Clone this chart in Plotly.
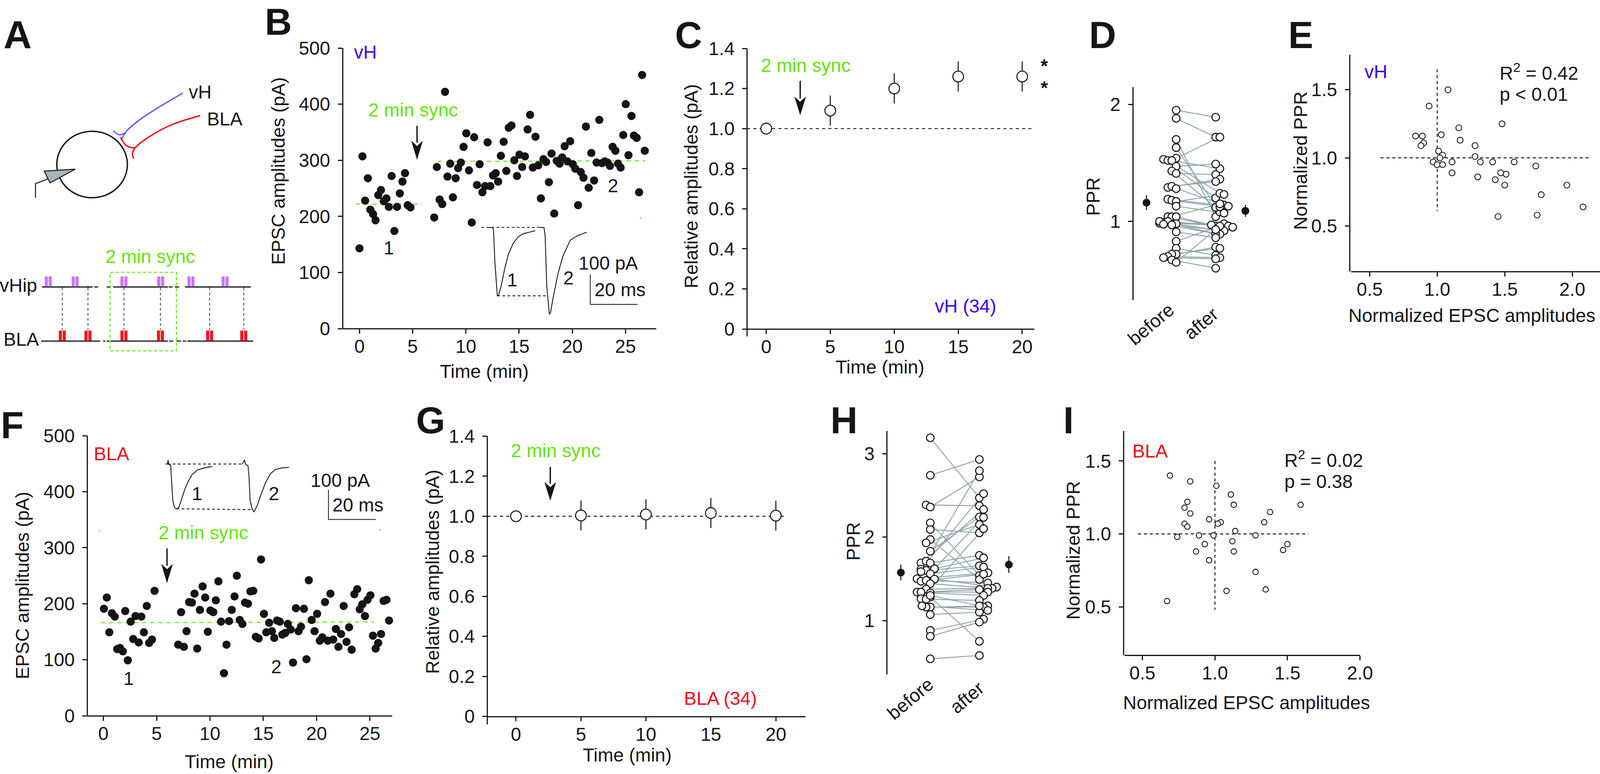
#!/usr/bin/python3
import plotly.graph_objects as go

W = 4126
H = 1981
FONT = "Liberation Sans"
BLACK = "#151515"
GREEN = "#62e60a"
BLUE = "#3a00f0"
RED = "#f00a14"
GREY_LINE = "#8fa5a8"

#DATA
B_TIME = [0,.28,.53,.79,1.02,1.28,1.51,1.77,2.02,2.28,2.53,2.76,3.02,3.28,3.53,3.79,4.04,4.28,4.53,4.79,
          7.02,7.27,7.53,7.78,8.04,8.27,8.53,8.78,9.04,9.27,9.53,9.78,10.04,10.29,10.55,10.78,11.04,11.29,11.55,11.8,
          12.04,12.3,12.55,12.8,13.03,13.29,13.55,13.8,14.03,14.29,14.55,14.8,15.03,15.29,15.55,15.8,16.03,16.29,16.54,16.8,
          17.05,17.29,17.54,17.8,18.05,18.3,18.54,18.8,19.05,19.28,19.54,19.8,20.05,20.28,20.54,20.8,21.05,21.28,21.54,21.79,
          22.05,22.28,22.54,22.79,23.05,23.3,23.54,23.79,24.05,24.3,24.54,24.79,25.02,25.28,25.56,25.79,26.05,26.28,26.56,26.81]
B_AMP = [143,307,228,268,212,204,193,238,247,227,232,217,272,174,217,241,262,277,220,216,
         198,288,230,222,422,271,294,234,268,286,296,324,348,282,189,341,256,293,243,254,
         332,254,273,277,262,308,333,281,358,362,300,272,310,288,307,355,381,287,342,291,
         232,302,297,261,312,205,299,294,305,325,298,334,293,285,220,279,269,360,251,313,
         264,296,372,295,298,296,290,324,317,294,287,345,400,309,379,344,340,243,452,317]

C_TIME = [0,5,10,15,20]
C_MEAN = [1.0,1.09,1.2,1.26,1.26]
C_ERR = [0,.075,.075,.075,.075]

D_BEFORE = [1.95,1.88,1.70,1.63,1.54,1.53,1.52,1.52,1.47,1.43,1.41,1.29,1.30,1.28,1.19,1.18,1.17,1.13,1.04,1.04,1.04,
            .98,.985,.99,1.0,.97,1.0,.975,.91,.83,.77,.72,.72,.70,.69,.67,.65]
D_BEFORE_OFF = [0,0,0,0,0,-.32,-.21,-.11,0,-.11,0,-.21,-.11,0,-.21,-.11,0,0,-.21,-.11,0,
                0,-.42,-.32,-.21,-.11,-.42,-.32,0,0,0,0,-.11,-.21,-.32,-.11,0]
D_AFTER = [1.89,1.72,1.04,1.08,1.72,1.20,1.24,1.45,1.49,1.12,1.40,1.36,1.34,1.14,1.13,1.125,1.23,1.07,.96,1.15,.97,
           .92,.98,.96,.95,.92,.89,.895,.86,.96,.71,.78,.77,.69,.68,.60,.93]
D_AFTER_OFF = [0,0,0,.105,.105,0,.105,.105,0,0,0,.105,0,.21,.32,.105,.21,.21,0,.105,-.11,
               .105,.21,.32,.43,.21,.105,0,0,.105,0,0,.105,.105,0,0,0]
D_MEAN = [1.16,1.09]
D_ERR = [.064,.052]

E_X = [1.08,.94,1.48,1.16,1.03,.84,.89,.90,.88,1.17,1.28,1.01,1.28,1.04,1.02,.97,1.0,1.04,1.11,1.32,1.41,1.57,
       1.11,1.73,1.47,1.51,1.30,1.43,1.50,1.96,1.77,2.08,1.45,1.74]
E_Y = [1.50,1.38,1.25,1.22,1.17,1.16,1.16,1.11,1.09,1.13,1.09,1.05,1.01,1.02,1.0,.97,.95,.95,.97,.97,.97,.97,
       .89,.94,.89,.88,.86,.84,.80,.80,.73,.64,.57,.58]

F_TIME = [.05,.32,.56,.8,1.07,1.29,1.56,1.83,2.05,2.29,2.56,2.8,3.02,3.31,3.56,3.8,4.07,4.29,4.56,4.8,
          7.02,7.29,7.55,7.8,8.04,8.31,8.55,8.8,9.06,9.31,9.55,9.8,10.04,10.31,10.55,10.79,11.04,11.31,11.55,11.79,
          12.04,12.3,12.52,12.79,13.04,13.28,13.57,13.79,14.06,14.3,14.57,14.79,15.06,15.28,15.55,15.81,16.03,16.3,16.55,16.79,
          17.06,17.3,17.57,17.79,18.06,18.3,18.54,18.81,19.05,19.27,19.54,19.81,20.05,20.3,20.54,20.79,21.05,21.3,21.56,21.81,
          22.05,22.3,22.54,22.81,23.05,23.29,23.54,23.81,24.05,24.29,24.54,24.78,25.05,25.29,25.54,25.78,26.05,26.29,26.56,26.8]
F_AMP = [191,211,149,183,177,119,121,115,187,99,168,137,178,131,177,149,196,130,136,223,
         127,185,123,151,203,202,218,120,189,231,211,150,188,185,206,240,168,76,127,169,
         189,213,250,171,164,202,200,222,223,141,138,279,182,149,166,151,139,170,168,145,
         148,164,154,95,192,151,159,191,101,242,171,151,182,134,140,203,134,218,136,155,
         123,146,196,132,158,118,217,226,190,199,178,207,215,143,120,130,146,205,207,170]

G_TIME = [0,5,10,15,20]
G_MEAN = [1.0,1.004,1.009,1.016,1.003]
G_ERR = [0,.075,.075,.075,.075]

H_BEFORE = [3.19,2.74,2.385,2.36,2.17,2.09,1.97,1.93,1.83,1.69,1.71,1.69,1.615,1.60,1.62,1.56,1.585,1.50,1.47,1.48,1.495,
            1.44,1.375,1.34,1.34,1.33,1.28,1.26,1.255,1.16,1.16,1.175,1.07,.88,.81,.54,1.30]
H_BEFORE_OFF = [0,0,-.085,0,0,0,0,-.085,0,-.19,-.085,0,-.19,-.085,.085,0,-.19,-.27,-.19,-.085,.085,
                0,-.085,-.27,-.19,0,0,-.19,-.085,0,-.085,-.17,0,0,0,0,0]
H_AFTER = [2.47,2.93,2.375,2.72,1.54,2.05,1.49,2.15,2.24,2.33,2.795,1.78,2.52,1.655,2.235,1.64,1.75,1.57,1.555,1.45,1.40,
           1.385,1.385,1.34,1.37,1.30,.75,2.10,1.24,1.175,1.16,1.12,1.10,1.015,.98,.58,1.175]
H_AFTER_OFF = [0,0,0,0,0,0,0,0,0,.085,0,0,.085,0,.085,.085,.085,.175,.085,.17,.35,
               .26,.17,.17,0,.085,0,.085,0,.17,.085,.17,0,.085,0,0,0]
H_MEAN = [1.574,1.67]
H_ERR = [.094,.10]

I_X = [.69,.83,1.01,1.11,.81,1.13,1.59,.79,1.38,.83,.96,1.34,1.04,1.02,.79,.81,1.14,.74,.89,.99,1.28,1.12,.93,1.50,1.47,.87,1.13,.96,1.28,1.35,1.08,.67]
I_Y = [1.40,1.36,1.33,1.27,1.22,1.20,1.20,1.18,1.15,1.14,1.10,1.08,1.08,1.07,1.07,1.05,1.02,.98,.99,.99,.99,.95,.93,.93,.89,.88,.88,.82,.74,.62,.61,.54]

#inset traces (ms, pA)
B_TRACE1_T = [2.6,4.7,5.2,5.75,6.8,7.3,8.4,9.9,11.5,13.6,15.7,17.8,20.4,22.8]
B_TRACE1_I = [0,0,-10,-114,-229,-227,-197,-139,-89,-52,-31,-21,-16,-11]
B_TRACE2_T = [24.6,26.5,27,27.7,28.8,29.3,30.3,32.4,34.5,37.6,40.8,44.6]
B_TRACE2_I = [0,0,-25,-197,-291,-285,-239,-156,-97,-43,-27,-16]
F_TRACE1_T = [0,.9,1.1,1.3,2.2,2.5,3.1,3.8,4.9,5.8,6.9,8.2,9.7,11.3,13.5,16.3,19.8]
F_TRACE1_I = [0,0,14,0,-4,-41,-123,-146,-151,-143,-115,-84,-57,-35,-20,-13,-8]
F_TRACE2_T = [32.5,33.4,33.8,34.9,35.3,35.8,36.6,37.4,38.8,40.4,42.1,44.3,46.5,49.2,52.2]
F_TRACE2_I = [0,14,0,-6,-41,-123,-149,-161,-139,-102,-66,-33,-18,-13,-11]

#protocol pulses in panel A
VHIP_PULSES = [124.5,193.8,319.6,414.3,492.4,580.4]
BLA_PULSES = [160.7,226.8,319.6,413.8,540.6,628.6]

fig = go.Figure()
axis_count = [1]
annotations = []
shapes = []


#FUNCTIONS
def px_x(p):
    return p / W


def px_y(p):
    return 1 - p / H


def text(x, y, s, size=48, color=BLACK, bold=False, anchor="center", angle=0, italic=False):
    if bold:
        s = "<b>" + s + "</b>"
    if italic:
        s = "<i>" + s + "</i>"
    annotations.append(dict(x=px_x(x), y=px_y(y), xref="paper", yref="paper", text=s, showarrow=False,
                            xanchor=anchor, yanchor="middle", textangle=angle,
                            font=dict(family=FONT, size=size, color=color)))


def arrow(x, y0, y1, y_head, width=30):
    shapes.append(dict(type="line", xref="paper", yref="paper", x0=px_x(x), x1=px_x(x), y0=px_y(y0), y1=px_y(y_head + 5),
                       line=dict(color=BLACK, width=3.5)))
    notch = y_head + (y1 - y_head) * 0.28
    path = "M %f,%f L %f,%f L %f,%f L %f,%f Z" % (px_x(x - width / 2), px_y(y_head), px_x(x), px_y(y1),
                                                  px_x(x + width / 2), px_y(y_head), px_x(x), px_y(notch))
    shapes.append(dict(type="path", xref="paper", yref="paper", path=path, fillcolor=BLACK, line=dict(width=0)))


def make_axes(x_px, y_px, x_cal, y_cal, x_line=None, y_line=None, xticks=None, yticks=None):
    # x_cal / y_cal are (value, pixel, value, pixel), x_line and y_line the pixel where each axis is drawn
    axis_count[0] += 1
    n = axis_count[0]
    x_scale = (x_cal[2] - x_cal[0]) / (x_cal[3] - x_cal[1])
    y_scale = (y_cal[2] - y_cal[0]) / (y_cal[3] - y_cal[1])
    x_range = [x_cal[0] + (x_px[0] - x_cal[1]) * x_scale, x_cal[0] + (x_px[1] - x_cal[1]) * x_scale]
    y_range = [y_cal[0] + (y_px[1] - y_cal[1]) * y_scale, y_cal[0] + (y_px[0] - y_cal[1]) * y_scale]
    xaxis = dict(domain=[px_x(x_px[0]), px_x(x_px[1])], range=x_range, showgrid=False, zeroline=False, anchor="free",
                 position=px_y(y_px[1] if x_line is None else x_line), visible=xticks is not None, automargin=False)
    yaxis = dict(domain=[px_y(y_px[1]), px_y(y_px[0])], range=y_range, showgrid=False, zeroline=False, anchor="free",
                 position=px_x(x_px[0] if y_line is None else y_line), visible=yticks is not None, automargin=False)
    style = dict(showline=True, linecolor=BLACK, linewidth=2.6, ticks="outside", ticklen=11, tickwidth=2.6,
                 tickcolor=BLACK, tickfont=dict(family=FONT, size=48, color=BLACK), tickmode="array")
    if xticks is not None:
        xaxis.update(style, tickvals=xticks[0], ticktext=xticks[1], ticklabelstandoff=-8)
    if yticks is not None:
        yaxis.update(style, tickvals=yticks[0], ticktext=yticks[1], ticklabelstandoff=10)
    fig.update_layout(**{"xaxis%d" % n: xaxis, "yaxis%d" % n: yaxis})
    return "x%d" % n, "y%d" % n


def line(ax, xs, ys, color=BLACK, width=2.5, dash=None, spline=False):
    fig.add_trace(go.Scatter(x=xs, y=ys, xaxis=ax[0], yaxis=ax[1], mode="lines", cliponaxis=False, hoverinfo="skip",
                             line=dict(color=color, width=width, dash=dash, shape="spline" if spline else "linear")))


def dots(ax, xs, ys, size, fill=BLACK, edge=BLACK, edge_width=0, err=None):
    error_y = dict(type="data", array=err, visible=True, thickness=2.6, width=0, color=BLACK) if err is not None else None
    fig.add_trace(go.Scatter(x=xs, y=ys, xaxis=ax[0], yaxis=ax[1], mode="markers", cliponaxis=False, error_y=error_y,
                             marker=dict(size=size, color=fill, line=dict(color=edge, width=edge_width))))


#PANEL A
ax = make_axes((0, 700), (0, 950), (0, 0, 700, 700), (0, 0, 950, 950))
shapes.append(dict(type="circle", xref="paper", yref="paper", x0=px_x(146.5), x1=px_x(328.5), y0=px_y(336), y1=px_y(506),
                   line=dict(color=BLACK, width=3.5)))
line(ax, [472,402,357,326,312.5], [238,279,309,336,359], color="#6a5cf5", width=3.5, spline=True)
line(ax, [292,308,324], [335,345,339], color="#6a5cf5", width=3.5, spline=True)
line(ax, [516,446,388,348,341.5,345], [296,318,348,379,394,406], color=RED, width=3.5, spline=True)
line(ax, [311,326,348], [351.5,373,379], color=RED, width=3.5, spline=True)
line(ax, [123,91.5,91.5], [458,470,506], width=2.5)
shapes.append(dict(type="path", xref="paper", yref="paper", fillcolor="#a9b5b8", line=dict(color=BLACK, width=2.5),
                   path="M %f,%f L %f,%f L %f,%f Z" % (px_x(114), px_y(438), px_x(194), px_y(433), px_x(129), px_y(468))))
for seg in [(108.5,239), (243,253), (275,286), (292,433), (435,445), (451,462), (477,646.4)]:
    line(ax, list(seg), [734.5,734.5], width=2.8)
for seg in [(106,258), (266,272), (275,282), (286,433), (436,447), (455,467), (471,480), (483,653)]:
    line(ax, list(seg), [873,873], width=2.8)
for c in BLA_PULSES:
    line(ax, [c,c], [736,845], color="#5a6a6a", width=2.6, dash="7px,6px")
for c in VHIP_PULSES:
    line(ax, [c-5,c-5], [707.5,733.5], color="#c878f5", width=8)
    line(ax, [c+5,c+5], [707.5,733.5], color="#c878f5", width=8)
for c in BLA_PULSES:
    line(ax, [c-5,c-5], [846,872], color="#f5141e", width=8)
    line(ax, [c+5,c+5], [846,872], color="#f5141e", width=8)
shapes.append(dict(type="rect", xref="paper", yref="paper", x0=px_x(284), x1=px_x(455), y0=px_y(697), y1=px_y(898),
                   line=dict(color=GREEN, width=2.6, dash="8px,6px")))
text(516, 236, "vH")
text(579.5, 305, "BLA")
text(387, 656, "2 min sync", color=GREEN)
text(47.5, 730, "vHip")
text(55, 868, "BLA")
text(45.5, 89, "A", size=100, bold=True)

#PANEL B
TIME_TICKS = ([0,5,10,15,20,25], ["0","5","10","15","20","25"])
AMP_TICKS = ([0,100,200,300,400,500], ["0","100","200","300","400","500"])
ax = make_axes((883, 1692), (123, 841), (0, 927, 25, 1613), (500, 123, 0, 841), xticks=TIME_TICKS, yticks=AMP_TICKS)
line(ax, [-.33,5.9], [222,222], color=GREEN, dash="11px,10px")
line(ax, [7.35,26.9], [298,299], color=GREEN, dash="11px,10px")
line(ax, [26.35,26.5], [197,197], color=GREEN)
dots(ax, B_TIME, B_AMP, 21)
arrow(1075.4, 322, 409, 360)
text(942, 133, "vH", color=BLUE)
text(1065, 281, "2 min sync", color=GREEN)
text(1003, 635, "1")
text(1581, 476, "2")
text(718, 56, "B", size=96, bold=True)
text(718, 438, "EPSC amplitudes (pA)", angle=-90)
text(1249, 950, "Time (min)")

ax = make_axes((1241, 1680), (560, 830), (0, 1241, 20, 1363), (0, 582, -100, 658.5))
line(ax, [0,26.5], [0,0], dash="7px,6px", width=2.2)
line(ax, [6.8,27.9], [-229,-229], dash="7px,6px", width=2.2)
line(ax, B_TRACE1_T, B_TRACE1_I, width=2.2)
line(ax, B_TRACE2_T, B_TRACE2_I, width=2.2)
line(ax, [46.1,46.1,66.1], [-157.5,-257.5,-257.5], width=2)
text(1568, 673, "100 pA")
text(1599, 741, "20 ms")
text(1321, 717, "1")
text(1466, 711, "2")

#PANEL C
REL_TICKS = ([0,.2,.4,.6,.8,1,1.2,1.4], ["0","0.2","0.4","0.6","0.8","1.0","1.2","1.4"])
EVERY5 = ([0,5,10,15,20], ["0","5","10","15","20"])
ax = make_axes((1926, 2667), (124, 861), (0, 1976, 20, 2636), (1.4, 124, 0, 842), x_line=842, xticks=EVERY5, yticks=REL_TICKS)
line(ax, [-1.5,21.5], [1,1], dash="8px,8px", width=2.4)
dots(ax, C_TIME, C_MEAN, 27.5, fill="white", edge_width=2.6, err=C_ERR)
arrow(2063.5, 207, 295, 247)
text(2077.5, 167, "2 min sync", color=GREEN)
text(2489.5, 783, "vH (34)", color=BLUE)
text(2693, 168, "*", bold=True)
text(2693, 225, "*", bold=True)
text(1775, 90, "C", size=96, bold=True)
text(1783, 477, "Relative amplitudes (pA)", angle=-90)
text(2269.5, 939, "Time (min)")

#PANEL D
ax = make_axes((2921, 3260), (223, 768), (1, 3033, 2, 3135), (2, 267, 1, 566.6), yticks=([1,2], ["1","2"]))
for i in range(len(D_BEFORE)):
    line(ax, [1 + D_BEFORE_OFF[i], 2 + D_AFTER_OFF[i]], [D_BEFORE[i], D_AFTER[i]], color=GREY_LINE, width=2.4)
dots(ax, [1 + o for o in D_BEFORE_OFF], D_BEFORE, 19.5, fill="white", edge_width=2.6)
dots(ax, [2 + o for o in D_AFTER_OFF], D_AFTER, 19.5, fill="white", edge_width=2.6)
dots(ax, [.25,2.75], D_MEAN, 20, err=D_ERR)
text(2820, 503, "PPR", angle=-90)
text(2968, 829, "before", angle=-40)
text(3098, 828, "after", angle=-40)
text(2843.5, 89, "D", size=96, bold=True)

#PANEL E
NORM_TICKS = ([.5,1,1.5,2], ["0.5","1.0","1.5","2.0"])
PPR_TICKS = ([.5,1,1.5], ["0.5","1.0","1.5"])
ax = make_axes((3484, 4126), (140, 695), (.5, 3532, 2, 4054.5), (1.5, 229.6, .5, 578.4), y_line=3480, xticks=NORM_TICKS, yticks=PPR_TICKS)
line(ax, [.58,2.14], [1,1], dash="8px,7px", width=2.4)
line(ax, [1,1], [1.65,.61], dash="8px,7px", width=2.4)
dots(ax, E_X, E_Y, 15, fill="white", edge_width=2.2)
text(3548, 184, "vH", color=BLUE)
text(3865.5, 184, "R<sup>2</sup> = 0.42", anchor="left")
text(3865.5, 242, "p &lt; 0.01", anchor="left")
text(3354.5, 89, "E", size=96, bold=True)
text(3353, 411, "Normalized PPR", angle=-90)
text(3795.5, 807, "Normalized EPSC amplitudes")

#PANEL F
ax = make_axes((224.4, 1011), (1115, 1832), (0, 266.6, 25, 953.8), (500, 1115, 0, 1832), xticks=TIME_TICKS, yticks=AMP_TICKS)
line(ax, [-.24,25.4], [166,167.5], color=GREEN, dash="11px,10px")
line(ax, [-.43,-.31], [330,330], color=GREEN)
line(ax, [25.9,26.05], [332,332], color=GREEN)
dots(ax, F_TIME, F_AMP, 21)
arrow(430.7, 1403.6, 1492.5, 1443)
text(288, 1161, "BLA", color=RED)
text(524.5, 1363, "2 min sync", color=GREEN)
text(331.5, 1736.5, "1")
text(713, 1706, "2")
text(32, 1087, "F", size=96, bold=True)
text(57, 1499, "EPSC amplitudes (pA)", angle=-90)
text(591, 1949, "Time (min)")

ax = make_axes((420, 1000), (1160, 1340), (0, 426.7, 20, 548.7), (0, 1187.7, -100, 1264))
line(ax, [.9,32.7], [0,0], dash="7px,6px", width=2.2)
line(ax, [4.7,37.1], [-150,-153], dash="7px,6px", width=2.2)
line(ax, F_TRACE1_T, F_TRACE1_I, width=2.2)
line(ax, F_TRACE2_T, F_TRACE2_I, width=2.2)
line(ax, [68.9,68.9,88.9], [-86,-186,-186], width=2)
text(877, 1229, "100 pA")
text(923, 1292, "20 ms")
text(508, 1263, "1")
text(707, 1263, "2")

#PANEL G
ax = make_axes((1256, 2077), (1116.4, 1854), (0, 1330.6, 20, 2000.7), (1.4, 1116.4, 0, 1833.5), x_line=1833.5, xticks=EVERY5, yticks=REL_TICKS)
line(ax, [-2.2,20.6], [1,1], dash="8px,8px", width=2.4)
dots(ax, G_TIME, G_MEAN, 27.5, fill="white", edge_width=2.6, err=G_ERR)
arrow(1419, 1195, 1281.6, 1233.4)
text(1433, 1153, "2 min sync", color=GREEN)
text(1858, 1787, "BLA (34)", color=RED)
text(1110.5, 1075, "G", size=96, bold=True)
text(1115, 1463, "Relative amplitudes (pA)", angle=-90)
text(1617.5, 1932, "Time (min)")

#PANEL H
ax = make_axes((2287, 2640), (1103, 1726), (1, 2399, 2, 2525.6), (3, 1161, 1, 1588), yticks=([1,2,3], ["1","2","3"]))
for i in range(len(H_BEFORE)):
    line(ax, [1 + H_BEFORE_OFF[i], 2 + H_AFTER_OFF[i]], [H_BEFORE[i], H_AFTER[i]], color=GREY_LINE, width=2.4)
dots(ax, [1 + o for o in H_BEFORE_OFF], H_BEFORE, 19.5, fill="white", edge_width=2.6)
dots(ax, [2 + o for o in H_AFTER_OFF], H_AFTER, 19.5, fill="white", edge_width=2.6)
dots(ax, [.40,2.60], H_MEAN, 20, err=H_ERR)
text(2200, 1386, "PPR", angle=-90)
text(2347, 1788, "before", angle=-40)
text(2493, 1785, "after", angle=-40)
text(2176.5, 1075, "H", size=96, bold=True)

#PANEL I
ax = make_axes((2900, 3507), (1103, 1677), (.5, 2946, 2, 3507), (1.5, 1179.7, .5, 1553.4), y_line=2897, xticks=NORM_TICKS, yticks=PPR_TICKS)
line(ax, [.47,1.645], [1,1], dash="8px,7px", width=2.4)
line(ax, [1,1], [1.5,.48], dash="8px,7px", width=2.4)
dots(ax, I_X, I_Y, 14, fill="white", edge_width=2.2)
text(2966, 1154, "BLA", color=RED)
text(3310, 1175, "R<sup>2</sup> = 0.02", anchor="left")
text(3310, 1232.5, "p = 0.38", anchor="left")
text(2756, 1075, "I", size=96, bold=True)
text(2767, 1408, "Normalized PPR", angle=-90)
text(3214, 1798, "Normalized EPSC amplitudes")

fig.update_layout(autosize=True, margin=dict(l=0, r=0, t=0, b=0), showlegend=False,
                  plot_bgcolor="white", paper_bgcolor="white", annotations=annotations, shapes=shapes,
                  font=dict(family=FONT, size=48, color=BLACK))

fig.write_html("out.html", config=dict(displayModeBar=False, responsive=True),
               default_width="100vw", default_height="100vh",
               post_script="document.body.style.margin='0';document.documentElement.style.overflow='hidden';"
                           "Plotly.Plots.resize(document.getElementById('{plot_id}'));")
